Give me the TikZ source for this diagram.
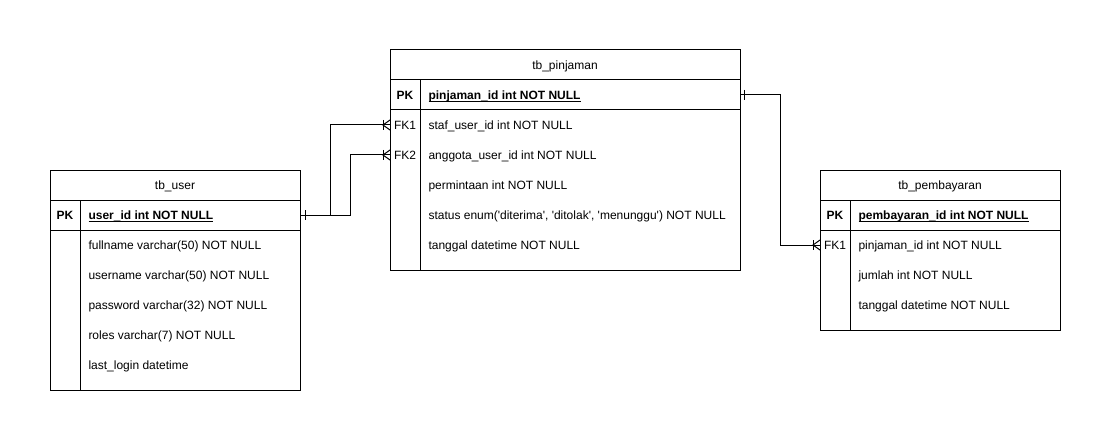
\documentclass[tikz,border=0pt]{standalone}
\usepackage{fontspec}
\setmainfont{Liberation Sans}
\usetikzlibrary{calc}
\newcommand\ulin[1]{\setbox0\hbox{#1}\rlap{\rule[-2.9pt]{\wd0}{0.7pt}}\box0}
\begin{document}
\begin{tikzpicture}[x=1pt,y=-1pt,line width=1pt,
  tblline/.style={draw=black,line width=1pt},
  hdr/.style={anchor=base,inner sep=0pt,font=\fontsize{12}{14}\selectfont},
  fld/.style={anchor=base west,inner sep=0pt,font=\fontsize{12}{14}\selectfont},
  pkfld/.style={fld,font=\fontsize{12}{14}\selectfont\bfseries},
  keylab/.style={anchor=base,inner sep=0pt,font=\fontsize{12}{14}\selectfont},
  pklab/.style={keylab,font=\fontsize{12}{14}\selectfont\bfseries},
  conn/.style={draw=black,line width=1pt}
]
\useasboundingbox (0,0) rectangle (1111,441);
\fill[white] (0,0) rectangle (1111,441);

% ---------- tb_user ----------
\draw[tblline] (50,170) rectangle (300,390);
\draw[tblline] (50,200) -- (300,200);
\draw[tblline] (50,230) -- (300,230);
\draw[tblline] (80,200) -- (80,390);
\node[hdr] (uh) at (175,189.3) {tb\_user};
\node[pklab] (upk) at (65,219.3) {PK};
\node[pkfld] (u1) at (88,219.3) {\ulin{user\_id int NOT NULL}};
\node[fld] (u2) at (88,249.3) {fullname varchar(50) NOT NULL};
\node[fld] (u3) at (88,279.3) {username varchar(50) NOT NULL};
\node[fld] (u4) at (88,309.3) {password varchar(32) NOT NULL};
\node[fld] (u5) at (88,339.3) {roles varchar(7) NOT NULL};
\node[fld] (u6) at (88,369.3) {last\_login datetime};

% ---------- tb_pinjaman ----------
\draw[tblline] (390,50) rectangle (740,270);
\draw[tblline] (390,80) -- (740,80);
\draw[tblline] (390,110) -- (740,110);
\draw[tblline] (420,80) -- (420,270);
\node[hdr] (ph) at (565,69.3) {tb\_pinjaman};
\node[pklab] (ppk) at (405,99.3) {PK};
\node[pkfld] (p1) at (428,99.3) {\ulin{pinjaman\_id int NOT NULL}};
\node[keylab] (pfk1) at (405,129.3) {FK1};
\node[fld] (p2) at (428,129.3) {staf\_user\_id int NOT NULL};
\node[keylab] (pfk2) at (405,159.3) {FK2};
\node[fld] (p3) at (428,159.3) {anggota\_user\_id int NOT NULL};
\node[fld] (p4) at (428,189.3) {permintaan int NOT NULL};
\node[fld] (p5) at (428,219.3) {status enum(\textquotesingle diterima\textquotesingle, \textquotesingle ditolak\textquotesingle, \textquotesingle menunggu\textquotesingle) NOT NULL};
\node[fld] (p6) at (428,249.3) {tanggal datetime NOT NULL};

% ---------- tb_pembayaran ----------
\draw[tblline] (820,170) rectangle (1060,330);
\draw[tblline] (820,200) -- (1060,200);
\draw[tblline] (820,230) -- (1060,230);
\draw[tblline] (850,200) -- (850,330);
\node[hdr] (bh) at (940,189.3) {tb\_pembayaran};
\node[pklab] (bpk) at (835,219.3) {PK};
\node[pkfld] (b1) at (858,219.3) {\ulin{pembayaran\_id int NOT NULL}};
\node[keylab] (bfk1) at (835,249.3) {FK1};
\node[fld] (b2) at (858,249.3) {pinjaman\_id int NOT NULL};
\node[fld] (b3) at (858,279.3) {jumlah int NOT NULL};
\node[fld] (b4) at (858,309.3) {tanggal datetime NOT NULL};

% ---------- connection points ----------
\coordinate (userPK) at (300,215);
\coordinate (pinFKa) at (390,125);
\coordinate (pinFKb) at (390,155);
\coordinate (pinPK) at (740,95);
\coordinate (pemFK) at (820,245);

% ---------- connectors ----------
\draw[conn] (userPK) -- ++(30,0) |- (pinFKa);
\draw[conn] (userPK) -- ++(50,0) |- (pinFKb);
\draw[conn] (pinPK) -- ++(40,0) |- (pemFK);

% one markers
\draw[conn] ($(userPK)+(5,-5)$) -- ($(userPK)+(5,5)$);
\draw[conn] ($(pinPK)+(4,-5)$) -- ($(pinPK)+(4,5)$);

% many markers (crow's foot with bar)
\foreach \p in {pinFKa,pinFKb,pemFK}{
  \draw[conn] ($(\p)+(-7,-5)$) -- ($(\p)+(-7,5)$);
  \draw[conn] ($(\p)+(0,-5)$) -- ($(\p)+(-7,0)$) -- ($(\p)+(0,5)$);
}
\end{tikzpicture}
\end{document}
